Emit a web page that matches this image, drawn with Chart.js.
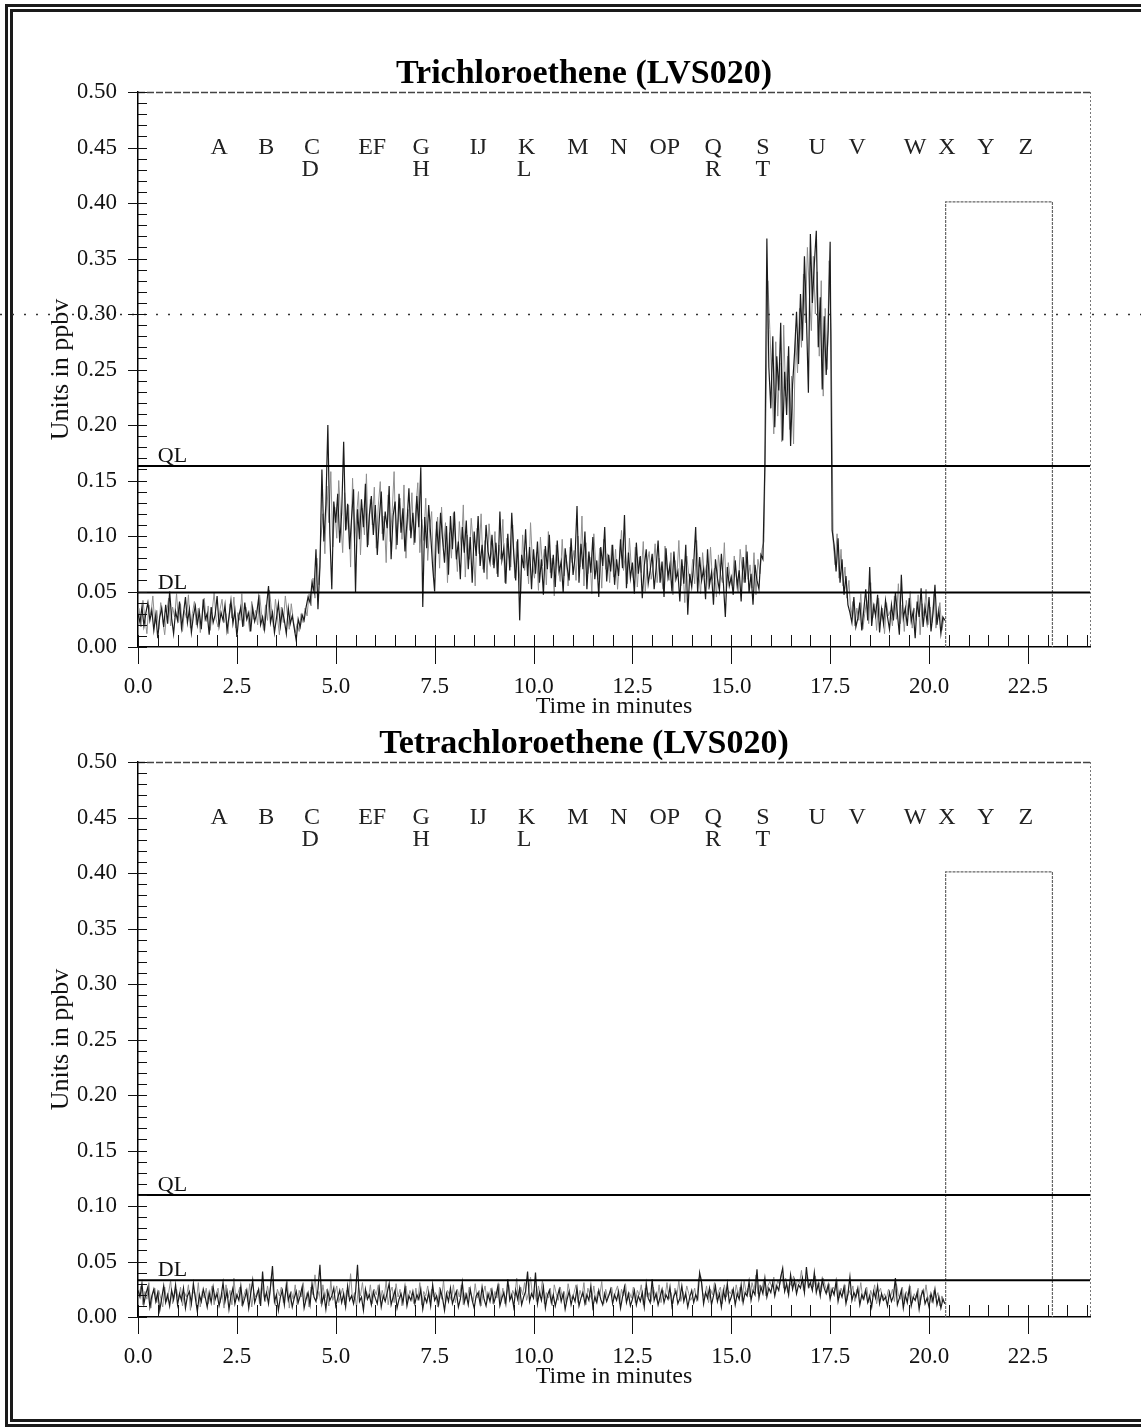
<!DOCTYPE html>
<html>
<head>
<meta charset="utf-8">
<title>Trichloroethene / Tetrachloroethene (LVS020)</title>
<script src="https://cdn.jsdelivr.net/npm/chart.js@4.4.1/dist/chart.umd.min.js"></script>
<style>
  html, body { margin: 0; padding: 0; background: #fff; }
  #page { position: relative; width: 1141px; height: 1427px; overflow: hidden; background: #fff; }
  #frame { position: absolute; left: 5px; top: 4px; width: 1170px; height: 1423px; box-sizing: border-box; border: 8px double #1a1a1a; }
  canvas { position: absolute; left: 0; }
  #tce { top: 0; }
  #pce { top: 670px; }
</style>
</head>
<body>
<div id="page">
  <div id="frame"></div>
  <canvas id="tce" width="1141" height="730"></canvas>
  <canvas id="pce" width="1141" height="730"></canvas>
</div>
<script>
// each channel is sampled every 0.05 min; the second channel is read half a step later
const TIME_STEP = 0.05;
const SECOND_OFFSET = 0.025;
const TIME_MAX = 24.07;

const TIME_TICKS = [0, 2.5, 5, 7.5, 10, 12.5, 15, 17.5, 20, 22.5];
const PPBV_TICKS = [0, 0.05, 0.1, 0.15, 0.2, 0.25, 0.3, 0.35, 0.4, 0.45, 0.5];

// event markers along the top of each panel (minutes)
const MARKS_TOP = ['A', 'B', 'C', 'EF', 'G', 'IJ', 'K', 'M', 'N', 'OP', 'Q', 'S', 'U', 'V', 'W', 'X', 'Y', 'Z'];
const MARKS_TOP_T = [2.05, 3.24, 4.40, 5.92, 7.16, 8.60, 9.83, 11.12, 12.16, 13.32, 14.54, 15.80, 17.17, 18.18, 19.65, 20.45, 21.44, 22.45];
const MARKS_LOW = ['D', 'H', 'L', 'R', 'T'];
const MARKS_LOW_T = [4.35, 7.16, 9.76, 14.54, 15.80];

// sampling window (minutes, ppbv)
const WINDOW_T = [20.42, 20.42, 23.12, 23.12];
const WINDOW_V = [0, 0.401, 0.401, 0];

// quantitation / detection limits, ppbv
const TCE_QL = 0.163, TCE_DL = 0.049;
const PCE_QL = 0.110, PCE_DL = 0.033;

// Trichloroethene, main channel, pptv
const TCE_MAIN = [
  30,22,36,19,31,40,24,33,15,29,8,27,35,18,38,21,50,26,12,32,
  24,41,17,30,45,22,34,13,28,37,20,32,16,43,25,30,11,36,22,29,
  46,19,31,24,38,15,27,42,21,33,9,28,36,18,40,25,31,14,35,23,
  30,44,20,27,16,37,55,22,31,13,26,39,19,33,24,12,35,21,28,17,
  6,25,18,29,24,36,45,40,58,50,88,34,72,160,95,128,200,102,52,131,
  112,138,94,121,185,105,129,88,116,142,49,124,97,133,108,147,90,119,136,101,
  128,83,115,140,96,122,107,145,79,118,131,92,138,103,125,86,112,143,98,121,
  94,136,108,162,36,117,89,128,101,72,50,113,84,121,97,76,109,65,118,88,
  122,79,95,61,108,85,114,70,99,58,104,82,118,73,92,67,110,86,76,101,
  71,94,63,122,78,89,57,102,69,121,84,60,97,24,83,71,106,64,90,52,
  88,66,95,58,79,47,91,70,101,62,83,54,96,68,77,49,89,72,60,98,
  65,81,127,58,93,70,104,52,86,67,99,61,78,45,90,73,108,59,83,68,
  92,56,79,64,97,71,119,53,85,62,76,48,94,66,82,44,73,88,57,69,
  84,52,71,96,58,77,45,89,63,74,50,86,61,68,41,79,57,92,29,66,
  54,75,108,49,81,60,70,43,88,56,67,38,79,62,51,84,58,27,72,55,
  63,47,78,55,69,41,81,58,86,49,66,38,74,60,52,83,79,165,368,252,
  215,280,198,262,231,292,186,248,209,271,181,236,265,302,255,318,276,352,298,229,
  372,310,345,375,270,315,232,298,245,285,365,105,92,68,98,58,79,47,64,38,
  31,22,45,18,26,40,15,33,52,24,72,19,37,28,47,13,34,21,42,27,
  16,38,24,49,30,11,65,26,35,19,44,23,32,8,41,27,53,18,36,22,
  45,14,30,56,20,33,12,27,24
];

// Trichloroethene, second channel, pptv
const TCE_SECOND = [
  35,18,42,26,12,38,29,46,21,33,16,40,24,11,31,44,19,36,27,48,
  22,39,14,33,26,47,17,30,41,20,35,13,28,44,23,37,15,32,49,25,
  18,34,43,22,30,12,39,26,45,17,31,24,48,19,36,28,14,41,25,33,
  20,47,29,15,38,24,51,33,18,43,27,11,36,22,46,30,16,39,25,13,
  21,14,30,22,35,28,48,37,62,44,80,56,98,120,84,145,112,158,90,126,
  98,150,117,85,139,106,128,72,152,95,118,140,83,125,101,156,92,133,110,144,
  89,127,149,102,118,76,137,95,121,158,88,112,134,97,146,80,124,105,139,92,
  126,148,85,115,96,134,78,108,122,64,99,117,71,126,90,112,58,103,80,121,
  94,68,113,87,128,63,101,79,116,92,55,107,84,120,70,96,61,111,88,74,
  104,66,92,79,115,58,98,83,72,110,62,95,78,48,101,69,86,57,112,75,
  62,85,51,99,73,88,56,104,67,80,46,92,71,59,97,64,83,55,90,76,
  87,60,100,72,118,55,94,66,81,48,102,74,61,89,53,97,70,84,58,92,
  63,88,52,78,105,69,84,57,98,71,62,90,54,81,67,95,50,76,86,61,
  72,93,58,80,66,52,91,70,60,85,47,78,63,96,55,73,40,82,65,58,
  79,57,96,68,48,85,63,74,52,90,60,71,45,83,66,58,94,50,76,61,
  55,82,64,49,88,70,58,92,61,74,53,85,47,79,66,88,95,210,330,286,
  240,192,275,208,256,185,290,226,262,196,244,183,280,247,305,270,336,292,360,318,
  285,352,300,338,262,330,226,305,250,348,282,96,74,102,62,88,55,72,44,60,
  28,41,19,35,24,48,16,30,42,21,58,26,39,15,44,23,35,12,40,28,
  33,19,46,25,57,21,38,14,42,29,50,17,35,24,47,11,39,28,52,20,
  36,22,48,17,31,40,15,26
];

// Tetrachloroethene, main channel, pptv
const PCE_MAIN = [
  24,18,30,12,21,27,9,19,25,14,22,6,17,28,13,20,10,24,16,29,
  11,21,15,26,8,19,23,12,30,17,5,20,14,25,18,9,22,13,27,16,
  21,10,18,31,14,23,7,19,26,12,20,15,28,11,17,24,8,21,33,13,
  19,25,10,41,16,22,12,27,46,14,20,6,18,24,11,29,15,21,9,17,
  23,13,19,27,8,16,22,11,30,18,14,25,47,12,20,7,23,15,19,26,
  10,17,24,13,21,9,28,15,19,12,22,47,14,18,6,25,16,20,11,23,
  17,12,26,9,19,14,22,30,11,18,24,8,16,21,13,27,10,19,15,23,
  12,20,16,25,7,18,13,22,10,29,15,19,11,24,17,6,21,14,26,12,
  18,23,9,16,31,13,20,11,25,15,8,19,22,12,27,16,10,21,14,24,
  13,19,28,10,17,22,12,34,15,20,9,24,16,26,11,18,23,41,14,21,
  17,40,12,22,15,27,8,19,24,13,20,10,18,25,14,21,7,16,23,11,
  19,14,26,10,17,22,12,20,15,28,9,18,13,24,16,11,21,14,19,25,
  12,20,15,23,8,18,27,13,21,10,16,24,11,19,14,22,9,30,17,13,
  34,15,21,11,18,25,13,20,16,27,10,19,23,12,17,28,14,21,9,18,
  24,13,20,16,40,31,12,22,17,26,11,19,28,14,21,9,24,16,30,13,
  18,25,11,21,16,29,13,22,19,32,15,24,20,43,17,27,21,35,18,26,
  22,31,19,28,24,36,44,23,30,20,38,25,33,21,29,26,35,22,45,27,
  31,24,40,22,30,19,34,26,21,29,16,25,20,32,14,23,18,27,12,21,
  36,15,22,18,26,11,20,16,24,13,19,9,23,17,28,12,21,15,18,10,
  22,14,19,35,11,17,24,8,20,13,26,10,18,15,22,7,19,24,12,17,
  9,21,14,25,11,18,8,16,12
];

// Tetrachloroethene, second channel, pptv
const PCE_SECOND = [
  19,28,11,23,16,31,8,21,26,13,24,17,9,27,14,22,33,12,20,25,
  15,27,10,22,18,29,6,20,24,14,31,9,23,17,26,12,19,28,11,21,
  26,13,22,8,29,17,24,11,35,16,21,27,10,19,25,14,30,9,22,18,
  24,12,30,20,14,28,17,38,22,10,25,19,27,13,21,32,8,23,16,29,
  11,24,18,31,14,22,9,27,20,38,16,23,12,29,17,25,10,33,15,21,
  28,13,20,26,11,24,18,39,15,22,9,27,19,31,14,23,17,29,12,25,
  20,29,14,24,17,33,11,22,27,13,30,18,25,10,21,28,15,24,19,12,
  26,15,31,11,23,19,28,14,25,18,22,9,27,16,33,12,24,20,15,29,
  13,25,18,29,11,22,16,27,20,14,30,17,24,10,21,28,15,19,26,12,
  23,17,30,14,26,12,21,29,16,24,19,35,11,27,20,31,15,22,36,18,
  25,14,28,19,33,12,22,17,26,10,29,21,15,27,18,23,13,30,20,16,
  22,29,13,24,18,31,11,26,20,16,28,14,23,19,32,12,25,17,21,27,
  16,23,28,12,25,19,30,15,22,17,27,13,24,20,29,11,26,18,22,14,
  27,20,15,29,13,24,18,31,16,22,12,26,19,33,14,23,17,28,21,15,
  19,26,14,35,37,22,17,28,13,25,20,31,16,23,27,12,29,18,24,21,
  25,16,29,20,27,14,33,22,26,18,31,24,38,21,29,25,34,19,28,32,
  27,36,24,33,29,40,26,35,22,31,28,37,25,34,30,42,24,32,38,26,
  34,27,37,25,31,23,35,28,22,30,19,27,24,33,17,26,21,29,15,24,
  20,28,14,25,19,31,16,23,27,13,24,18,29,12,22,26,15,21,17,25,
  18,25,14,30,20,16,27,12,23,19,28,13,21,17,26,11,24,18,29,15,
  20,13,24,17,22,10,19,15
];

const SERIF = "'Liberation Serif', 'Times New Roman', serif";
const INK = '#111';

// ticks, frame, event letters and limit labels on top of the plot
const traceDecor = {
  id: 'traceDecor',
  afterDraw(chart, args, opts) {
    const { ctx, chartArea: a, scales: { x, y } } = chart;
    ctx.save();

    // top and right edges of the plot box
    ctx.lineWidth = 1.5;
    ctx.strokeStyle = '#444';
    ctx.setLineDash([7, 2]);
    ctx.beginPath();
    ctx.moveTo(a.left, a.top + 0.5);
    ctx.lineTo(a.right, a.top + 0.5);
    ctx.stroke();
    ctx.lineWidth = 1;
    ctx.strokeStyle = '#777';
    ctx.setLineDash([2, 2]);
    ctx.beginPath();
    ctx.moveTo(a.right + 0.5, a.top);
    ctx.lineTo(a.right + 0.5, a.bottom);
    ctx.stroke();
    ctx.setLineDash([]);

    // dotted guide running across the whole sheet
    if (opts.guide != null) {
      const gy = Math.round(y.getPixelForValue(opts.guide)) + 0.5;
      ctx.strokeStyle = '#333';
      ctx.lineWidth = 1.5;
      ctx.setLineDash([2, 10]);
      ctx.beginPath();
      ctx.moveTo(0, gy);
      ctx.lineTo(chart.width, gy);
      ctx.stroke();
      ctx.setLineDash([]);
    }

    // minor ticks every 0.5 min inside, majors every 2.5 min also hang below
    ctx.strokeStyle = INK;
    ctx.lineWidth = 1;
    ctx.beginPath();
    for (let k = 0; k * 0.5 <= x.max; k++) {
      const px = Math.round(x.getPixelForValue(k * 0.5)) + 0.5;
      ctx.moveTo(px, a.bottom);
      ctx.lineTo(px, a.bottom - 12);
      if (k % 5 === 0) {
        ctx.moveTo(px, a.bottom);
        ctx.lineTo(px, a.bottom + 17);
      }
    }
    // minor ticks every 0.01 ppbv, majors every 0.05 cross the axis
    for (let k = 0; k <= 50; k++) {
      const py = Math.round(y.getPixelForValue(k / 100)) + 0.5;
      ctx.moveTo(a.left, py);
      ctx.lineTo(a.left + 9, py);
      if (k % 5 === 0) {
        ctx.moveTo(a.left - 10, py);
        ctx.lineTo(a.left, py);
      }
    }
    ctx.stroke();

    // event letters
    ctx.fillStyle = '#222';
    ctx.font = '24px ' + SERIF;
    ctx.textAlign = 'center';
    ctx.textBaseline = 'middle';
    MARKS_TOP.forEach((m, i) => ctx.fillText(m, x.getPixelForValue(MARKS_TOP_T[i]), y.getPixelForValue(0.45)));
    MARKS_LOW.forEach((m, i) => ctx.fillText(m, x.getPixelForValue(MARKS_LOW_T[i]), y.getPixelForValue(0.43)));

    // limit labels sitting on their lines
    ctx.font = '22px ' + SERIF;
    ctx.textAlign = 'left';
    ctx.textBaseline = 'alphabetic';
    ctx.fillStyle = INK;
    ctx.fillText('QL', x.getPixelForValue(0.5), y.getPixelForValue(opts.ql) - 4);
    ctx.fillText('DL', x.getPixelForValue(0.5), y.getPixelForValue(opts.dl) - 4);

    ctx.restore();
  }
};

// pptv samples -> {minutes, ppbv}
function toPoints(pptv, start) {
  return pptv.map((v, i) => ({ x: start + i * TIME_STEP, y: v / 1000 }));
}

function limitLine(v) {
  return {
    data: [{ x: 0, y: v }, { x: TIME_MAX, y: v }],
    borderColor: '#000', borderWidth: 2, pointRadius: 0, showLine: true, order: 1
  };
}

function makePanel(id, title, main, second, ql, dl, guide) {
  return new Chart(document.getElementById(id), {
    type: 'scatter',
    data: {
      datasets: [
        {
          data: toPoints(second, SECOND_OFFSET),
          borderColor: '#8f8f8f', borderWidth: 1, pointRadius: 0, showLine: true, order: 4
        },
        {
          data: toPoints(main, 0),
          borderColor: '#1c1c1c', borderWidth: 1.2, pointRadius: 0, showLine: true, order: 3
        },
        {
          data: WINDOW_T.map((t, i) => ({ x: t, y: WINDOW_V[i] })),
          borderColor: '#666', borderWidth: 1.2, borderDash: [3, 1], pointRadius: 0, showLine: true, order: 2
        },
        limitLine(ql),
        limitLine(dl)
      ]
    },
    options: {
      responsive: false,
      animation: false,
      events: [],
      // left padding keeps the title centred where the sheet has it
      layout: { padding: { left: 78, right: 51, top: 0, bottom: 0 } },
      plugins: {
        legend: { display: false },
        tooltip: { enabled: false },
        title: {
          display: true,
          text: title,
          color: '#000',
          font: { family: SERIF, size: 34, weight: 'bold', lineHeight: 1 },
          padding: { top: 57, bottom: 1 }
        },
        traceDecor: { ql, dl, guide }
      },
      scales: {
        x: {
          type: 'linear',
          min: 0,
          max: TIME_MAX,
          afterBuildTicks: s => { s.ticks = TIME_TICKS.map(value => ({ value })); },
          afterFit: s => { s.height = 83; },
          grid: { display: false, drawTicks: false },
          border: { display: true, color: '#000', width: 1.5 },
          ticks: {
            color: INK, padding: 26, maxRotation: 0, autoSkip: false,
            font: { family: SERIF, size: 23 },
            callback: v => v.toFixed(1)
          },
          title: {
            display: true, text: 'Time in minutes', color: INK,
            font: { family: SERIF, size: 24 },
            padding: { top: 0, bottom: 9 }
          }
        },
        y: {
          min: 0,
          max: 0.5,
          afterBuildTicks: s => { s.ticks = PPBV_TICKS.map(value => ({ value })); },
          afterFit: s => { s.width = 60; },
          grid: { display: false, drawTicks: false },
          border: { display: true, color: '#000', width: 1.5 },
          ticks: {
            color: INK, padding: 21,
            font: { family: SERIF, size: 23 },
            callback: v => v.toFixed(2)
          },
          title: {
            display: true, text: 'Units in ppbv', color: INK,
            font: { family: SERIF, size: 26 },
            padding: { top: -32, bottom: 0 }
          }
        }
      }
    },
    plugins: [traceDecor]
  });
}

makePanel('tce', 'Trichloroethene (LVS020)', TCE_MAIN, TCE_SECOND, TCE_QL, TCE_DL, 0.30);
makePanel('pce', 'Tetrachloroethene (LVS020)', PCE_MAIN, PCE_SECOND, PCE_QL, PCE_DL, null);
</script>
</body>
</html>
